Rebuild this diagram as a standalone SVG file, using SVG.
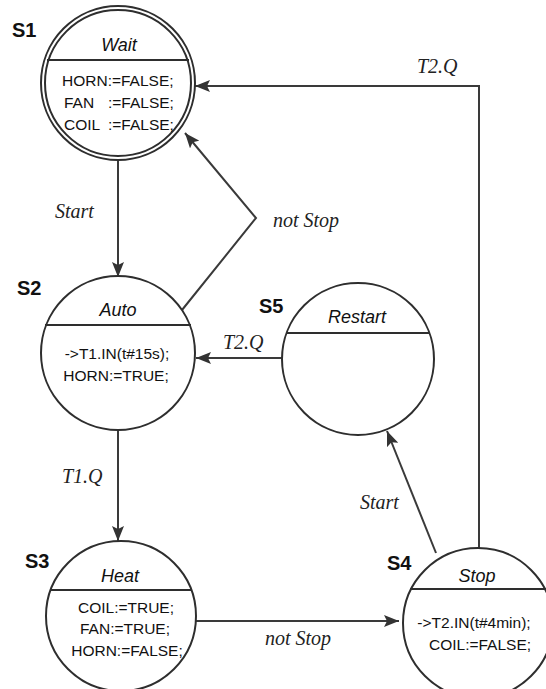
<svg xmlns="http://www.w3.org/2000/svg" width="546" height="689" viewBox="0 0 546 689">
<style>
.bg{fill:#fff}
.st{fill:#fff;stroke:#2e2e2e;stroke-width:2}
.dv{stroke:#2e2e2e;stroke-width:2.2}
.ln{fill:none;stroke:#3a3a3a;stroke-width:2}
.sid{font-family:"Liberation Sans",Arial,sans-serif;font-weight:bold;font-size:20px;fill:#111}
.nm{font-family:"Liberation Sans",Arial,sans-serif;font-style:italic;font-size:18px;fill:#111;text-anchor:middle}
.ac{font-family:"Liberation Sans",Arial,sans-serif;font-size:15.5px;fill:#111}
.acm{font-family:"Liberation Sans",Arial,sans-serif;font-size:15.5px;fill:#111;text-anchor:middle}
.lb{font-family:"Liberation Serif","Times New Roman",serif;font-style:italic;font-size:20px;fill:#222}
</style>
<defs>
<marker id="ah" markerUnits="userSpaceOnUse" markerWidth="16" markerHeight="12" refX="15" refY="6" orient="auto">
<path d="M0,0 L15,6 L0,12 L3,6 z" fill="#333"/>
</marker>
</defs>
<rect class="bg" width="546" height="689"/>
<g id="connectors">
<line class="ln" x1="118" y1="160" x2="118" y2="277" marker-end="url(#ah)"/>
<line class="ln" x1="118" y1="430" x2="118" y2="541" marker-end="url(#ah)"/>
<line class="ln" x1="196" y1="621" x2="399" y2="621" marker-end="url(#ah)"/>
<line class="ln" x1="282" y1="358" x2="196" y2="358" marker-end="url(#ah)"/>
<line class="ln" x1="436" y1="553" x2="387" y2="431" marker-end="url(#ah)"/>
<polyline class="ln" points="182,310 256,218 185,133" marker-end="url(#ah)"/>
<polyline class="ln" points="479,548 479,86 195,86" marker-end="url(#ah)"/>
<text class="lb" x="55" y="218">Start</text>
<text class="lb" x="62" y="483">T1.Q</text>
<text class="lb" x="223" y="349">T2.Q</text>
<text class="lb" x="417" y="73">T2.Q</text>
<text class="lb" x="273" y="227">not Stop</text>
<text class="lb" x="265" y="645">not Stop</text>
<text class="lb" x="360" y="509">Start</text>
</g>
<g id="S1">
<circle class="st" cx="118" cy="83" r="77"/>
<circle class="st" cx="118" cy="83" r="73"/>
<line class="dv" x1="47" y1="60" x2="189" y2="60"/>
<text class="sid" x="12" y="37">S1</text>
<text class="nm" x="119" y="51">Wait</text>
<text class="ac" x="62" y="86">HORN:=FALSE;</text>
<text class="ac" y="108"><tspan x="64">FAN</tspan><tspan x="108">:=FALSE;</tspan></text>
<text class="ac" y="130"><tspan x="64">COIL</tspan><tspan x="108">:=FALSE;</tspan></text>
</g>
<g id="S2">
<circle class="st" cx="118" cy="353" r="77"/>
<line class="dv" x1="45" y1="325" x2="191" y2="325"/>
<text class="sid" x="17" y="295">S2</text>
<text class="nm" x="118" y="316">Auto</text>
<text class="acm" x="117" y="359">-&gt;T1.IN(t#15s);</text>
<text class="acm" x="116" y="381">HORN:=TRUE;</text>
</g>
<g id="S5">
<circle class="st" cx="358" cy="359" r="76"/>
<line class="dv" x1="286" y1="333" x2="430" y2="333"/>
<text class="sid" x="259" y="313">S5</text>
<text class="nm" x="357" y="323">Restart</text>
</g>
<g id="S3">
<circle class="st" cx="121" cy="616" r="75"/>
<line class="dv" x1="50" y1="590" x2="192" y2="590"/>
<text class="sid" x="25" y="568">S3</text>
<text class="nm" x="120" y="582">Heat</text>
<text class="acm" x="126" y="613">COIL:=TRUE;</text>
<text class="acm" x="125" y="634">FAN:=TRUE;</text>
<text class="acm" x="127" y="656">HORN:=FALSE;</text>
</g>
<g id="S4">
<circle class="st" cx="478" cy="623" r="75"/>
<line class="dv" x1="410" y1="589" x2="546" y2="589"/>
<text class="sid" x="387" y="570">S4</text>
<text class="nm" x="477" y="582">Stop</text>
<text class="acm" x="474" y="628">-&gt;T2.IN(t#4min);</text>
<text class="acm" x="480" y="650">COIL:=FALSE;</text>
</g>
</svg>
